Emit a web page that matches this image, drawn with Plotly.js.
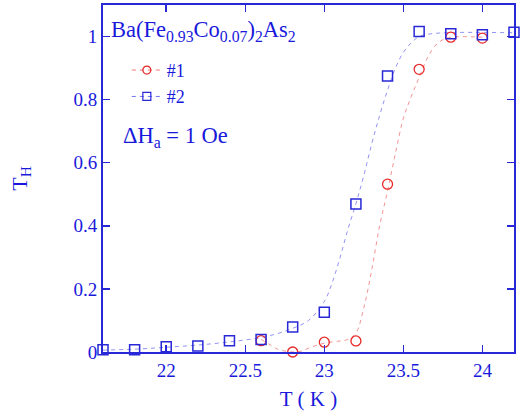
<!DOCTYPE html>
<html>
<head>
<meta charset="utf-8">
<script src="https://cdn.plot.ly/plotly-3.0.1.min.js"></script>
<style>html,body{margin:0;padding:0;background:#fff;}#chart{width:527px;height:416px;}</style>
</head>
<body>
<div id="chart"></div>
<script>
// Sample #1 (red circles)
const t1 = [22.6, 22.8, 23.0, 23.2, 23.4, 23.6, 23.8, 24.0];
const th1 = [0.036, 0.0, 0.031, 0.035, 0.532, 0.896, 0.998, 0.995];
// Sample #2 (blue squares)
const t2 = [21.6, 21.8, 22.0, 22.2, 22.4, 22.6, 22.8, 23.0, 23.2, 23.4, 23.6, 23.8, 24.0, 24.2];
const th2 = [0.007, 0.007, 0.017, 0.019, 0.036, 0.04, 0.079, 0.126, 0.469, 0.875, 1.016, 1.009, 1.006, 1.014];
// Fit curves
const fit1T = [22.6, 22.65, 22.7, 22.75, 22.8, 22.85, 22.9, 23.0, 23.1, 23.15, 23.2, 23.25, 23.3, 23.35, 23.4, 23.45, 23.5, 23.55, 23.6, 23.65, 23.7, 23.75, 23.8, 24.0];
const fit1H = [0.04, 0.025, 0.01, 0.003, 0.0, 0.002, 0.012, 0.028, 0.035, 0.04, 0.06, 0.14, 0.26, 0.40, 0.51, 0.63, 0.74, 0.81, 0.87, 0.93, 0.97, 0.99, 0.998, 0.998];
const fit2T = [21.6, 21.8, 22.0, 22.2, 22.4, 22.6, 22.7, 22.8, 22.9, 23.0, 23.05, 23.1, 23.15, 23.2, 23.25, 23.3, 23.35, 23.4, 23.45, 23.5, 23.55, 23.6, 23.7, 24.2];
const fit2H = [0.006, 0.009, 0.015, 0.022, 0.032, 0.046, 0.058, 0.075, 0.10, 0.16, 0.22, 0.30, 0.39, 0.47, 0.56, 0.66, 0.75, 0.83, 0.90, 0.95, 0.98, 1.0, 1.01, 1.012];
const legendNames = ['#1', '#2'];

const RED = 'rgb(230,40,40)';
const BLUE = 'rgb(40,40,215)';
const TXT = 'rgb(25,25,220)';
const FONT = 'Liberation Serif';

const traces = [
  {x: fit1T, y: fit1H, mode: 'lines', line: {color: 'rgba(240,120,120,0.8)', dash: '4px,4px', width: 1, shape: 'spline'}, showlegend: false, hoverinfo: 'skip'},
  {x: fit2T, y: fit2H, mode: 'lines', line: {color: 'rgba(120,120,240,0.8)', dash: '4px,4px', width: 1, shape: 'spline'}, showlegend: false, hoverinfo: 'skip'},
  {x: t1, y: th1, mode: 'markers', marker: {symbol: 'circle-open', size: 10, color: RED, line: {width: 1.3, color: RED}}, showlegend: false, cliponaxis: false},
  {x: t2, y: th2, mode: 'markers', marker: {symbol: 'square-open', size: 10, color: BLUE, line: {width: 1.5, color: BLUE}}, showlegend: false, cliponaxis: false},
  {x: [null], y: [null], name: legendNames[0], mode: 'lines+markers', line: {color: 'rgba(240,100,100,0.9)', dash: '4px,4px', width: 1}, marker: {symbol: 'circle-open', size: 8, color: RED, line: {width: 1.2, color: RED}}},
  {x: [null], y: [null], name: legendNames[1], mode: 'lines+markers', line: {color: 'rgba(100,100,235,0.9)', dash: '4px,4px', width: 1}, marker: {symbol: 'square-open', size: 8, color: BLUE, line: {width: 1.2, color: BLUE}}}
];

const axisCommon = {
  showline: true, linecolor: BLUE, linewidth: 2, mirror: 'ticks',
  ticks: 'inside', ticklen: 7, tickwidth: 1.5, tickcolor: BLUE,
  showgrid: false, zeroline: false,
  tickfont: {family: FONT, size: 19, color: TXT}
};

const layout = {
  width: 527, height: 416,
  margin: {l: 103, r: 13, t: 5, b: 64},
  paper_bgcolor: '#fff', plot_bgcolor: '#fff',
  font: {family: FONT, color: TXT},
  showlegend: true,
  legend: {x: 0.058, y: 0.865, xanchor: 'left', yanchor: 'top', bgcolor: 'rgba(0,0,0,0)',
           font: {family: FONT, size: 18, color: TXT}, tracegroupgap: 0, itemwidth: 30},
  xaxis: Object.assign({}, axisCommon, {range: [21.6, 24.2], tickvals: [22, 22.5, 23, 23.5, 24], ticktext: ['22', '22.5', '23', '23.5', '24'],
    title: {text: 'T ( K )', font: {family: FONT, size: 21, color: TXT}, standoff: 12}}),
  yaxis: Object.assign({}, axisCommon, {range: [0, 1.1], tickvals: [0, 0.2, 0.4, 0.6, 0.8, 1], ticktext: ['0', '0.2', '0.4', '0.6', '0.8', '1'],
    title: {text: 'T<sub>H</sub>', font: {family: FONT, size: 22, color: TXT}, standoff: 40}}),
  annotations: [
    {xref: 'paper', yref: 'paper', x: 0.015, y: 0.925, xanchor: 'left', yanchor: 'middle', showarrow: false,
     text: 'Ba(Fe<sub>0.93</sub>Co<sub>0.07</sub>)<sub>2</sub>As<sub>2</sub>', font: {family: FONT, size: 22.5, color: TXT}},
    {xref: 'paper', yref: 'paper', x: 0.045, y: 0.62, xanchor: 'left', yanchor: 'middle', showarrow: false,
     text: 'ΔH<sub>a</sub> = 1 Oe', font: {family: FONT, size: 22.5, color: TXT}}
  ]
};

Plotly.newPlot('chart', traces, layout, {displayModeBar: false, staticPlot: true});
</script>
</body>
</html>
